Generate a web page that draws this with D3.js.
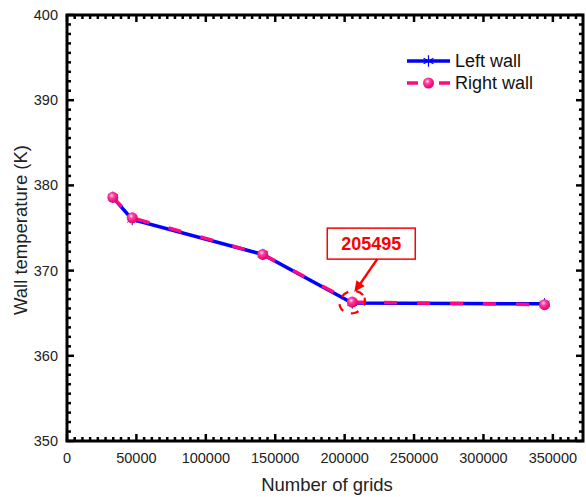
<!DOCTYPE html>
<html>
<head>
<meta charset="utf-8">
<script src="https://cdn.jsdelivr.net/npm/d3@7"></script>
<style>
  body { margin: 0; background: #fff; }
  text { font-family: "Liberation Sans", Arial, sans-serif; }
</style>
</head>
<body>
<div id="chart"></div>
<script>
// grid counts and wall temperatures (K)
const grids = [33000, 47000, 141000, 205495, 344000];
const leftWall = [378.6, 376.0, 371.9, 366.2, 366.1];
const rightWall = [378.6, 376.2, 371.9, 366.3, 366.0];
const xTicks = [0, 50000, 100000, 150000, 200000, 250000, 300000, 350000];
const yTicks = [350, 360, 370, 380, 390, 400];
const seriesNames = ["Left wall", "Right wall"];
const noteLabel = "205495";

drawChart();

function drawChart() {
  const width = 586, height = 497;
  const margin = {top: 15, right: 3, bottom: 56, left: 67};
  const w = width - margin.left - margin.right;
  const h = height - margin.top - margin.bottom;

  const svg = d3.select("#chart").append("svg")
    .attr("width", width).attr("height", height);

  const defs = svg.append("defs");
  const grad = defs.append("radialGradient").attr("id", "ball")
    .attr("cx", "40%").attr("cy", "35%").attr("r", "65%");
  grad.append("stop").attr("offset", "0%").attr("stop-color", "#ffe0f0");
  grad.append("stop").attr("offset", "35%").attr("stop-color", "#ff3c9c");
  grad.append("stop").attr("offset", "100%").attr("stop-color", "#e0006a");

  const g = svg.append("g").attr("transform", "translate(" + margin.left + "," + margin.top + ")");

  const x = d3.scaleLinear().domain([0, 371700]).range([0, w]);
  const y = d3.scaleLinear().domain([350, 400]).range([h, 0]);

  // minor ticks, 9 intervals per major step
  const xMinor = d3.range(0, 371700, 50000 / 9).filter(v => Math.abs(v / 50000 - Math.round(v / 50000)) > 1e-6);
  const yMinor = d3.range(350, 400, 10 / 9).filter(v => Math.abs(v / 10 - Math.round(v / 10)) > 1e-6);

  const tickColor = "#000";
  // bottom / top
  [[h, -1], [0, 1]].forEach(([py, dir]) => {
    g.selectAll(null).data(xTicks).enter().append("line")
      .attr("x1", d => x(d)).attr("x2", d => x(d))
      .attr("y1", py).attr("y2", py + dir * 7)
      .attr("stroke", tickColor).attr("stroke-width", 2.5);
    g.selectAll(null).data(xMinor).enter().append("line")
      .attr("x1", d => x(d)).attr("x2", d => x(d))
      .attr("y1", py).attr("y2", py + dir * 4)
      .attr("stroke", tickColor).attr("stroke-width", 2.5);
  });
  // left / right
  [[0, 1], [w, -1]].forEach(([px, dir]) => {
    g.selectAll(null).data(yTicks).enter().append("line")
      .attr("y1", d => y(d)).attr("y2", d => y(d))
      .attr("x1", px).attr("x2", px + dir * 7)
      .attr("stroke", tickColor).attr("stroke-width", 2.5);
    g.selectAll(null).data(yMinor).enter().append("line")
      .attr("y1", d => y(d)).attr("y2", d => y(d))
      .attr("x1", px).attr("x2", px + dir * 4)
      .attr("stroke", tickColor).attr("stroke-width", 2.5);
  });

  g.append("rect").attr("x", 0).attr("y", 0).attr("width", w).attr("height", h)
    .attr("fill", "none").attr("stroke", "#000").attr("stroke-width", 3);

  g.selectAll(null).data(xTicks).enter().append("text")
    .attr("x", d => x(d)).attr("y", h + 22)
    .attr("text-anchor", "middle").attr("font-size", 14.5).attr("fill", "#222")
    .text(d => d);
  g.selectAll(null).data(yTicks).enter().append("text")
    .attr("x", -9).attr("y", d => y(d) + 5)
    .attr("text-anchor", "end").attr("font-size", 14.5).attr("fill", "#222")
    .text(d => d);

  svg.append("text").attr("x", 327).attr("y", 491)
    .attr("text-anchor", "middle").attr("font-size", 18.5).attr("fill", "#222")
    .text("Number of grids");
  svg.append("text").attr("transform", "translate(27," + (margin.top + h / 2 + 2) + ") rotate(-90)")
    .attr("text-anchor", "middle").attr("font-size", 18.5).attr("fill", "#222")
    .text("Wall temperature (K)");

  const leftData = grids.map((d, i) => ({x: d, y: leftWall[i]}));
  const rightData = grids.map((d, i) => ({x: d, y: rightWall[i]}));
  const line = d3.line().x(d => x(d.x)).y(d => y(d.y));

  g.append("path").datum(leftData).attr("d", line)
    .attr("fill", "none").attr("stroke", "#0000ff").attr("stroke-width", 3.5);

  const star = d3.symbol().type(d3.symbolAsterisk).size(90);
  g.selectAll(null).data(leftData).enter().append("path")
    .attr("d", star).attr("transform", d => "translate(" + x(d.x) + "," + y(d.y) + ")")
    .attr("stroke", "#0000ff").attr("stroke-width", 1).attr("fill", "none");

  g.append("path").datum(rightData).attr("d", line)
    .attr("fill", "none").attr("stroke", "#ff0a84").attr("stroke-width", 3.5)
    .attr("stroke-dasharray", "13 20");

  g.selectAll(null).data(rightData).enter().append("circle")
    .attr("cx", d => x(d.x)).attr("cy", d => y(d.y)).attr("r", 5.5)
    .attr("fill", "url(#ball)");

  // annotation
  const px = x(grids[3]), py = y(rightWall[3]);
  g.append("ellipse").attr("cx", px).attr("cy", py).attr("rx", 13).attr("ry", 11)
    .attr("fill", "none").attr("stroke", "#ff0000").attr("stroke-width", 2.2)
    .attr("stroke-dasharray", "8 8").attr("transform", "rotate(-20," + px + "," + py + ")");
  g.append("rect").attr("x", px - 25).attr("y", py - 74).attr("width", 88).attr("height", 31)
    .attr("fill", "#fff").attr("stroke", "#ff0000").attr("stroke-width", 1.5);
  g.append("text").attr("x", px + 19).attr("y", py - 52)
    .attr("text-anchor", "middle").attr("font-size", 18).attr("font-weight", "bold")
    .attr("fill", "#ff0000").text(noteLabel);
  const ax0 = px + 25, ay0 = py - 43, ax1 = px + 2, ay1 = py - 10;
  g.append("line").attr("x1", ax0).attr("y1", ay0).attr("x2", ax1 + 5).attr("y2", ay1 - 7)
    .attr("stroke", "#ff0000").attr("stroke-width", 2.5);
  const ang = Math.atan2(ay1 - ay0, ax1 - ax0);
  const hl = 11, hw = 5;
  const bx = ax1 - hl * Math.cos(ang), by = ay1 - hl * Math.sin(ang);
  g.append("path")
    .attr("d", "M" + ax1 + "," + ay1 +
      "L" + (bx + hw * Math.sin(ang)) + "," + (by - hw * Math.cos(ang)) +
      "L" + (bx - hw * Math.sin(ang)) + "," + (by + hw * Math.cos(ang)) + "Z")
    .attr("fill", "#ff0000");

  // legend
  const lg = svg.append("g").attr("transform", "translate(407,61)");
  lg.append("line").attr("x1", 0).attr("x2", 43).attr("y1", 0).attr("y2", 0)
    .attr("stroke", "#0000ff").attr("stroke-width", 3.5);
  lg.append("path").attr("d", star).attr("transform", "translate(21.5,0)")
    .attr("stroke", "#0000ff").attr("stroke-width", 1.2).attr("fill", "none");
  lg.append("line").attr("x1", 0).attr("x2", 43).attr("y1", 22).attr("y2", 22)
    .attr("stroke", "#ff0a84").attr("stroke-width", 3.5).attr("stroke-dasharray", "11 21");
  lg.append("circle").attr("cx", 21.5).attr("cy", 22).attr("r", 5.5).attr("fill", "url(#ball)");
  lg.selectAll(null).data(seriesNames).enter().append("text")
    .attr("x", 48).attr("y", (d, i) => i * 22 + 6)
    .attr("font-size", 18).attr("fill", "#111").text(d => d);
}
</script>
</body>
</html>
